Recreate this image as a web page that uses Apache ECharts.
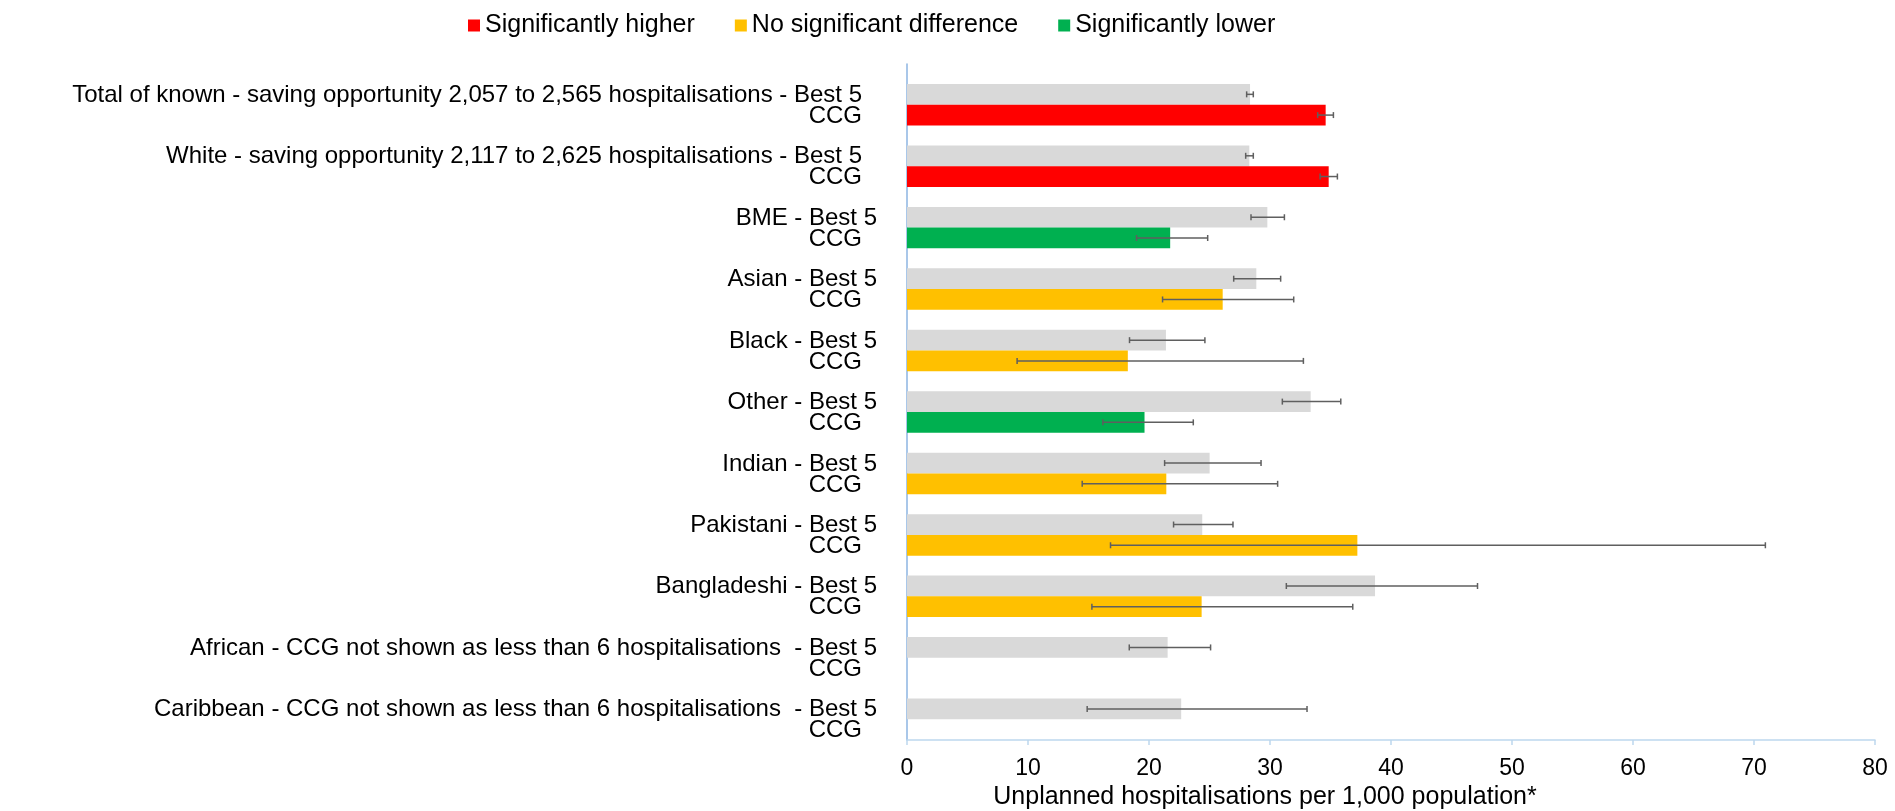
<!DOCTYPE html>
<html lang="en">
<head>
<meta charset="UTF-8">
<title>Unplanned hospitalisations by ethnicity</title>
<script src="https://cdn.jsdelivr.net/npm/echarts@6/dist/echarts.min.js"></script>
<style>
    html, body { margin: 0; padding: 0; background: #fff; }
    #chart { width: 1895px; height: 811px; }
</style>
</head>
<body>
<div id="chart"></div>
<script type="text/javascript">
// groups, top to bottom
const categories = [
    'Total of known - saving opportunity 2,057 to 2,565 hospitalisations',
    'White - saving opportunity 2,117 to 2,625 hospitalisations',
    'BME', 'Asian', 'Black', 'Other', 'Indian', 'Pakistani', 'Bangladeshi',
    'African - CCG not shown as less than 6 hospitalisations ',
    'Caribbean - CCG not shown as less than 6 hospitalisations '
];
const best5 = [28.35, 28.29, 29.78, 28.87, 21.40, 33.36, 25.01, 24.40, 38.68, 21.54, 22.66];
const best5Low = [28.07, 27.99, 28.43, 27.00, 18.39, 31.02, 21.29, 22.03, 31.35, 18.37, 14.89];
const best5High = [28.62, 28.62, 31.19, 30.88, 24.62, 35.85, 29.26, 26.94, 47.15, 25.09, 33.06];
const ccg = [34.60, 34.85, 21.75, 26.09, 18.25, 19.63, 21.43, 37.22, 24.35, null, null];
const ccgLow = [33.94, 34.14, 18.97, 21.12, 9.10, 16.19, 14.48, 16.82, 15.28, null, null];
const ccgHigh = [35.24, 35.57, 24.85, 31.96, 32.76, 23.66, 30.63, 70.94, 36.84, null, null];
const ccgSignif = ['higher', 'higher', 'lower', 'same', 'same', 'lower', 'same', 'same', 'same', null, null];
const xTicks = [0, 80, 10];

const FONT = '"Liberation Sans", Arial, Helvetica, sans-serif';
// fractions of a category band: empty slot on top, then Best 5, then CCG
const GAP = 0.325, BAR = 0.3375;

const signifs = [
    {key: 'higher', name: 'Significantly higher', color: '#FF0000'},
    {key: 'same', name: 'No significant difference', color: '#FFC000'},
    {key: 'lower', name: 'Significantly lower', color: '#00B050'}
];

function errorBars(slot) {
    return function (params, api) {
        let idx = api.value(2);
        let a = api.coord([api.value(0), idx]);
        let b = api.coord([api.value(1), idx]);
        let band = api.size([0, 1])[1];
        let y = a[1] - band / 2 + band * (GAP + BAR * slot + BAR / 2);
        let st = {stroke: '#5f5f5f', lineWidth: 1.5};
        return {
            type: 'group',
            children: [
                {type: 'line', shape: {x1: a[0], y1: y, x2: b[0], y2: y}, style: st},
                {type: 'line', shape: {x1: a[0], y1: y - 3, x2: a[0], y2: y + 3}, style: st},
                {type: 'line', shape: {x1: b[0], y1: y - 3, x2: b[0], y2: y + 3}, style: st}
            ]
        };
    };
}

let best5Err = [], ccgErr = [];
categories.forEach((c, i) => {
    best5Err.push([best5Low[i], best5High[i], i]);
    if (ccg[i] !== null) ccgErr.push([ccgLow[i], ccgHigh[i], i]);
});

let series = [
    {
        name: 'spacer', type: 'bar', barWidth: (GAP * 100) + '%', barGap: '0%',
        data: categories.map(() => 0), itemStyle: {color: 'transparent'}, silent: true
    },
    {
        name: 'Best 5', type: 'bar', barWidth: (BAR * 100) + '%', barGap: '0%',
        data: best5, itemStyle: {color: '#D9D9D9'}
    }
];
signifs.forEach(s => {
    series.push({
        name: s.name, type: 'bar', stack: 'ccg', barWidth: (BAR * 100) + '%', barGap: '0%',
        data: ccg.map((v, i) => ccgSignif[i] === s.key ? v : '-'),
        itemStyle: {color: s.color}
    });
});
series.push({
    type: 'custom', renderItem: errorBars(0), data: best5Err, clip: false, z: 5,
    encode: {x: [0, 1], y: 2}, silent: true
});
series.push({
    type: 'custom', renderItem: errorBars(1), data: ccgErr, clip: false, z: 5,
    encode: {x: [0, 1], y: 2}, silent: true
});

let chart = echarts.init(document.getElementById('chart'));
let option = {
    animation: false,
    textStyle: {fontFamily: FONT},
    legend: {
        data: signifs.map(s => s.name),
        left: 463, top: 8,
        icon: 'rect', itemWidth: 12, itemHeight: 12, itemGap: 40,
        textStyle: {fontSize: 25, color: '#000', fontFamily: FONT}
    },
    grid: {left: 907, right: 20, top: 64, bottom: 71, containLabel: false, outerBoundsMode: 'none'},
    xAxis: {
        type: 'value', min: xTicks[0], max: xTicks[1], interval: xTicks[2],
        name: 'Unplanned hospitalisations per 1,000 population*',
        nameLocation: 'middle', nameGap: 41,
        nameTextStyle: {fontSize: 25, color: '#000', fontFamily: FONT, padding: [0, 252, 0, 0]},
        axisLine: {show: true, lineStyle: {color: '#BDD7EE', width: 1.5}},
        axisTick: {show: true, length: 5, lineStyle: {color: '#BDD7EE', width: 1.5}},
        splitLine: {show: false},
        axisLabel: {fontSize: 23, color: '#000', margin: 17, fontFamily: FONT}
    },
    yAxis: {
        type: 'category', inverse: true, data: categories,
        axisLine: {show: true, lineStyle: {color: '#8DB4E2', width: 1.5}},
        axisTick: {show: false},
        axisLabel: {
            margin: 30, padding: [22, 0, 0, 0],
            formatter: (value, index) => index < 2
                ? '{w|' + value + ' - Best 5}\n{c|CCG}'
                : '{a|' + value + ' - Best 5}\n{c|CCG}',
            rich: {
                a: {fontSize: 24, color: '#000', lineHeight: 21, align: 'right', fontFamily: FONT},
                w: {fontSize: 24, color: '#000', lineHeight: 21, align: 'right', padding: [0, 15, 0, 0], fontFamily: FONT},
                c: {fontSize: 24, color: '#000', lineHeight: 21, align: 'right', padding: [0, 15, 0, 0], fontFamily: FONT}
            }
        }
    },
    series: series
};
chart.setOption(option);
</script>
</body>
</html>
